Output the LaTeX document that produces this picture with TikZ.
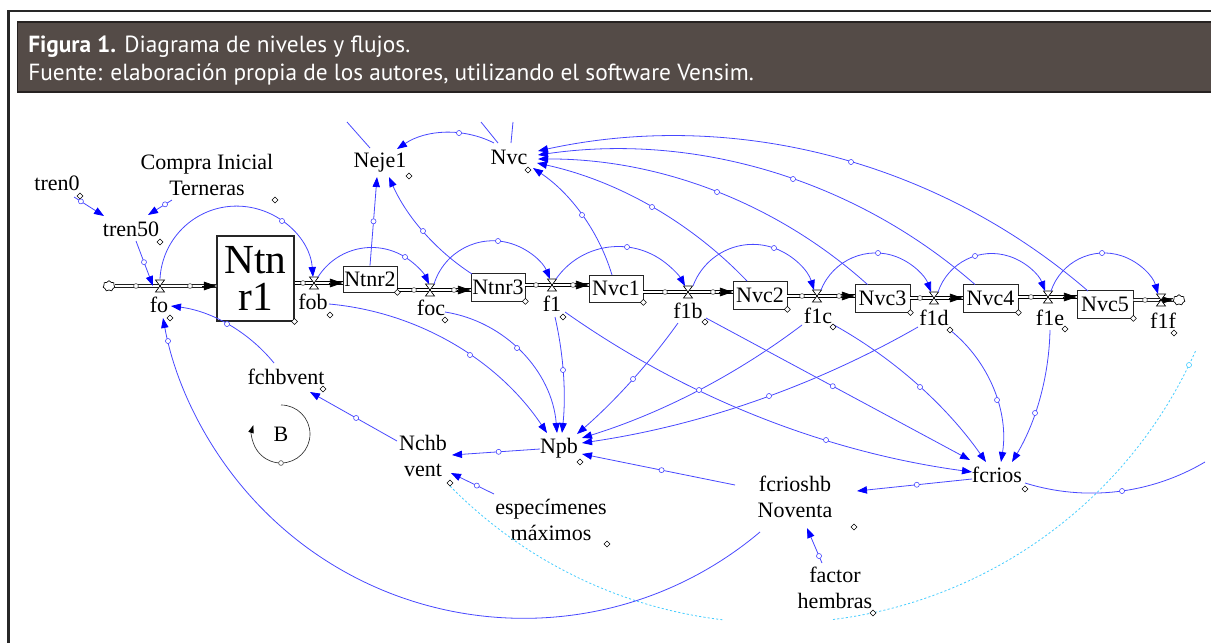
\documentclass[tikz,border=0pt]{standalone}
\usepackage{fontspec}
\setmainfont{Liberation Serif}
\newfontfamily\hdrfont{PT Sans}
\usetikzlibrary{arrows.meta,shapes.geometric,shapes.symbols}
\definecolor{hdrbg}{RGB}{84,75,71}
\definecolor{hdrln}{RGB}{38,34,33}
\definecolor{frm}{RGB}{40,40,40}
\definecolor{lnblue}{RGB}{72,72,255}
\definecolor{tipblue}{RGB}{0,0,255}
\definecolor{cyanl}{RGB}{70,205,255}
\newcommand\vfnt{\fontsize{16.5pt}{19pt}\selectfont}
\newcommand\bigfnt{\fontsize{31pt}{27.5pt}\selectfont}
\newcommand\hfnt{\hdrfont\fontsize{17.5pt}{20pt}\selectfont}
\newdimen\vaSx \newdimen\vaSy \newdimen\vaHx \newdimen\vaHy \newdimen\vaEx \newdimen\vaEy
% circular arc through three points (start, handle, end), as Vensim draws connectors
\newcommand\varc[4][]{%
  \path (#2) coordinate (vaS) (#3) coordinate (vaH) (#4) coordinate (vaE);%
  \pgfextractx{\vaSx}{\pgfpointanchor{vaS}{center}}%
  \pgfextracty{\vaSy}{\pgfpointanchor{vaS}{center}}%
  \pgfextractx{\vaHx}{\pgfpointanchor{vaH}{center}}%
  \pgfextracty{\vaHy}{\pgfpointanchor{vaH}{center}}%
  \pgfextractx{\vaEx}{\pgfpointanchor{vaE}{center}}%
  \pgfextracty{\vaEy}{\pgfpointanchor{vaE}{center}}%
  \pgfmathsetmacro\vaBx{(\vaHx-\vaSx)/100}%
  \pgfmathsetmacro\vaBy{(\vaHy-\vaSy)/100}%
  \pgfmathsetmacro\vaCx{(\vaEx-\vaSx)/100}%
  \pgfmathsetmacro\vaCy{(\vaEy-\vaSy)/100}%
  \pgfmathsetmacro\vaD{2*((\vaBx)*(\vaCy)-(\vaBy)*(\vaCx))}%
  \pgfmathsetmacro\vaBB{(\vaBx)*(\vaBx)+(\vaBy)*(\vaBy)}%
  \pgfmathsetmacro\vaCC{(\vaCx)*(\vaCx)+(\vaCy)*(\vaCy)}%
  \pgfmathsetmacro\vaUx{((\vaCy)*(\vaBB)-(\vaBy)*(\vaCC))/(\vaD)}%
  \pgfmathsetmacro\vaUy{((\vaBx)*(\vaCC)-(\vaCx)*(\vaBB))/(\vaD)}%
  \pgfmathsetmacro\vaR{100*veclen(\vaUx,\vaUy)}%
  \pgfmathsetmacro\vaAs{atan2(-(\vaUy),-(\vaUx))}%
  \pgfmathsetmacro\vaAh{atan2((\vaBy)-(\vaUy),(\vaBx)-(\vaUx))}%
  \pgfmathsetmacro\vaAe{atan2((\vaCy)-(\vaUy),(\vaCx)-(\vaUx))}%
  \pgfmathsetmacro\vaDh{(\vaAh)-(\vaAs)}%
  \pgfmathsetmacro\vaDh{(\vaDh)<0 ? (\vaDh)+360 : (\vaDh)}%
  \pgfmathsetmacro\vaDe{(\vaAe)-(\vaAs)}%
  \pgfmathsetmacro\vaDe{(\vaDe)<0 ? (\vaDe)+360 : (\vaDe)}%
  \pgfmathsetmacro\vaEnd{(\vaDh)<(\vaDe) ? (\vaAs)+(\vaDe) : (\vaAs)+(\vaDe)-360}%
  \draw[#1] (vaS) arc[start angle=\vaAs, end angle=\vaEnd, radius=\vaR pt];%
}
\newcommand\mkvalve[3]{%
  \coordinate (#1) at (#2,#3);%
  \draw[valvest] ([shift={(-4.5,-6)}]#1) -- ([shift={(4.5,-6)}]#1) -- ([shift={(-4.5,6)}]#1) -- ([shift={(4.5,6)}]#1) -- cycle;%
}
\newcommand\mkpipe[2]{%
  \path (#1) coordinate (pS) (#2) coordinate (pE);%
  \draw[pipe] (pS) -- (pE);%
  \draw[pipetip] ([shift={(-14,0)}]pE) -- (pE);%
}
\begin{document}
\begin{tikzpicture}[x=0.75pt,y=-0.75pt,
  lbl/.style={font=\vfnt, inner sep=0pt, align=center},
  stock/.style={draw=black!85, line width=0.6pt, fill=white, inner sep=0pt, font=\vfnt, align=center},
  hdr/.style={font=\hfnt, text=white, inner sep=0pt, anchor=base west},
  conn/.style={draw=lnblue, line width=0.6pt, -{Triangle[length=7.5pt,width=5.5pt,color=tipblue]}},
  connn/.style={draw=lnblue, line width=0.6pt},
  cyanst/.style={draw=cyanl, line width=0.6pt, dash pattern=on 1.6pt off 1.6pt},
  hdl/.style={circle, draw=lnblue, fill=white, inner sep=0pt, minimum size=3.8pt, line width=0.45pt},
  hdlc/.style={circle, draw=cyanl, fill=white, inner sep=0pt, minimum size=3.8pt, line width=0.45pt},
  hdlk/.style={circle, draw=black!70, fill=white, inner sep=0pt, minimum size=3.6pt, line width=0.45pt},
  dmd/.style={diamond, draw=black, fill=white, inner sep=0pt, minimum size=4.6pt, line width=0.4pt},
  valvest/.style={draw=black, fill=white, line width=0.5pt},
  pipe/.style={draw=black, line width=0.55pt, double=white, double distance=1.7pt},
  pipetip/.style={draw=black, line width=0.5pt, -{Triangle[length=9.5pt,width=6.5pt]}},
  cloudst/.style={cloud, draw=black, fill=white, cloud puffs=7, aspect=1.2, inner sep=0pt, minimum width=9pt, minimum height=8pt, line width=0.5pt},
  loopst/.style={draw=black!80, line width=0.5pt, -{Triangle[length=6pt,width=4pt,color=black]}}]
\useasboundingbox (0,0) rectangle (1211,643);
% frame and caption
\draw[frm, line width=1.9pt] (8.5,650) -- (8.5,11) -- (1220,11);
\draw[fill=hdrbg, draw=hdrln, line width=1.3pt] (17.5,22) rectangle (1220,92);
\node[hdr] (cap1) at (28,52) {\textbf{Figura 1.} Diagrama de niveles y flujos.};
\node[hdr] (cap2) at (28,80) {Fuente: elaboración propia de los autores, utilizando el software Vensim.};
% auxiliary variables
\node[lbl] (tren0) at (57,183) {tren0};
\node[lbl] (compra) at (207,175) {Compra Inicial\\Terneras};
\node[lbl] (tren50) at (131,229) {tren50};
\node[lbl] (Neje1) at (380,163) {Neje1};
\node[lbl] (Nvc) at (509,157) {Nvc};
\node[lbl] (fchbvent) at (286,377) {fchbvent};
\node[lbl] (B) at (281,434) {B};
\node[lbl] (Nchbvent) at (423,456) {Nchb\\vent};
\node[lbl] (Npb) at (559,448) {Npb};
\node[lbl] (espec) at (551,520) {especímenes\\máximos};
\node[lbl] (fcrios) at (997,475) {fcrios};
\node[lbl] (fcrioshb) at (795,497) {fcrioshb\\Noventa};
\node[lbl] (factor) at (835,588) {factor\\hembras};
% flow labels
\node[lbl] (lfo) at (159,305) {fo};
\node[lbl] (lfob) at (313,302) {fob};
\node[lbl] (lfoc) at (431,308) {foc};
\node[lbl] (lf1) at (552,304) {f1};
\node[lbl] (lf1b) at (688,311) {f1b};
\node[lbl] (lf1c) at (818,316) {f1c};
\node[lbl] (lf1d) at (934,318) {f1d};
\node[lbl] (lf1e) at (1050,318) {f1e};
\node[lbl] (lf1f) at (1163,321) {f1f};
% stocks
\node[stock, font=\bigfnt, minimum width=57.75pt, minimum height=63.75pt, line width=0.8pt] (Ntnr1) at (255.5,278.5) {Ntn\\r1};
\node[stock, minimum width=40.5pt, minimum height=19.5pt] (Ntnr2) at (370,279) {Ntnr2};
\node[stock, minimum width=40.5pt, minimum height=21pt] (Ntnr3) at (498,287) {Ntnr3};
\node[stock, minimum width=40.5pt, minimum height=20.25pt] (Nvc1) at (616,288.5) {Nvc1};
\node[stock, minimum width=40.5pt, minimum height=21pt] (Nvc2) at (760,295) {Nvc2};
\node[stock, minimum width=41.25pt, minimum height=20.5pt] (Nvc3) at (882.5,298.5) {Nvc3};
\node[stock, minimum width=41.25pt, minimum height=20.5pt] (Nvc4) at (990.5,298.5) {Nvc4};
\node[stock, minimum width=42pt, minimum height=21pt] (Nvc5) at (1105,304) {Nvc5};
% clouds
\node[cloudst] (cL) at (109,286) {};
\node[cloudst] (cR) at (1179,300) {};
% valves
\coordinate (vfo) at (160,286);
\coordinate (vfob) at (314,283);
\coordinate (vfoc) at (430,290);
\coordinate (vf1) at (552,285);
\coordinate (vf1b) at (688,292);
\coordinate (vf1c) at (817,296);
\coordinate (vf1d) at (934,298);
\coordinate (vf1e) at (1048,297);
\coordinate (vf1f) at (1161,300);
% pipes
\mkpipe{cL.east}{Ntnr1.west |- vfo}
\mkpipe{Ntnr1.east |- vfob}{Ntnr2.west |- vfob}
\mkpipe{Ntnr2.east |- vfoc}{Ntnr3.west |- vfoc}
\mkpipe{Ntnr3.east |- vf1}{Nvc1.west |- vf1}
\mkpipe{Nvc1.east |- vf1b}{Nvc2.west |- vf1b}
\mkpipe{Nvc2.east |- vf1c}{Nvc3.west |- vf1c}
\mkpipe{Nvc3.east |- vf1d}{Nvc4.west |- vf1d}
\mkpipe{Nvc4.east |- vf1e}{Nvc5.west |- vf1e}
\mkpipe{Nvc5.east |- vf1f}{cR.west}
\foreach \px/\py [count=\i] in {136/286,190/286,303/283,414/290,454/290,536/285,573/285,665/292,713/292,802/296,839/296,920/298,1031/297,1145/300}
  \node[hdlk] (ph\i) at (\px,\py) {};
\mkvalve{vfoA}{160}{286}
\mkvalve{vfobA}{314}{283}
\mkvalve{vfocA}{430}{290}
\mkvalve{vf1A}{552}{285}
\mkvalve{vf1bA}{688}{292}
\mkvalve{vf1cA}{817}{296}
\mkvalve{vf1dA}{934}{298}
\mkvalve{vf1eA}{1048}{297}
\mkvalve{vf1fA}{1161}{300}
% handle coordinates
\coordinate (h1) at (282,221);
\coordinate (h2) at (405,257);
\coordinate (h3) at (498,241);
\coordinate (h4) at (627,247);
\coordinate (h5) at (774,248);
\coordinate (h6) at (878,253);
\coordinate (h7) at (975,256);
\coordinate (h8) at (1102,253);
\coordinate (h9) at (423,231);
\coordinate (h10) at (459,133);
\coordinate (h11) at (582,215);
\coordinate (h12) at (652,207);
\coordinate (h13) at (717,192);
\coordinate (h14) at (793,179);
\coordinate (h15) at (851,162);
\coordinate (h16) at (470,355);
\coordinate (h17) at (517,348);
\coordinate (h18) at (563,370);
\coordinate (h19) at (633,379);
\coordinate (h20) at (699,390);
\coordinate (h21) at (769,396);
\coordinate (h23) at (826,440);
\coordinate (h25) at (920,387);
\coordinate (h26) at (997,400);
\coordinate (h27) at (1035,413);
\coordinate (h29) at (1122,491);
\coordinate (h30) at (227,324);
\coordinate (h31) at (168,341);
\coordinate (offR) at (1205,462);
\coordinate (fr1) at (347,122);
\coordinate (fr2) at (481,122);
\coordinate (fr3) at (513,122);
\coordinate (cy1) at (600,587.5);
\coordinate (cyA) at (723,619.8);
\coordinate (cyB) at (833,619.5);
\coordinate (cy2) at (1031,546);
\coordinate (cyC) at (1196,350);
% cyan dashed arc
\varc[cyanst]{[shift={(27,30)}]Nchbvent.center}{cy1}{cyA}
\varc[cyanst]{cyB}{cy2}{cyC}
\node[hdlc] (hc1) at (1189,365) {};
% arcs between flows
\varc[conn]{[shift={(0,-7)}]vfo}{h1}{[shift={(-1,-6)}]vfob}
\varc[conn]{[shift={(4,-6)}]vfob}{h2}{[shift={(-1,-6)}]vfoc}
\varc[conn]{[shift={(4,-6)}]vfoc}{h3}{[shift={(-2,-6)}]vf1}
\varc[conn]{[shift={(4,-6)}]vf1}{h4}{[shift={(-3,-6)}]vf1b}
\varc[conn]{[shift={(5,-6)}]vf1b}{h5}{[shift={(-3,-6)}]vf1c}
\varc[conn]{[shift={(4,-6)}]vf1c}{h6}{[shift={(-3,-6)}]vf1d}
\varc[conn]{[shift={(4,-6)}]vf1d}{h7}{[shift={(-3,-6)}]vf1e}
\varc[conn]{[shift={(3,-6)}]vf1e}{h8}{[shift={(-3,-6)}]vf1f}
% to Neje1 and Nvc
\draw[conn] (Ntnr2.north) -- node[hdl,pos=0.5]{} ([shift={(-3,14)}]Neje1.center);
\varc[conn]{[shift={(-26,-13)}]Ntnr3.center}{h9}{[shift={(9,14)}]Neje1.center}
\varc[conn]{[shift={(-15,-14)}]Nvc.center}{h10}{[shift={(17,-14)}]Neje1.center}
\varc[conn]{[shift={(-4,-13.5)}]Nvc1.center}{h11}{[shift={(24,11)}]Nvc.center}
\varc[conn]{[shift={(-13,-14)}]Nvc2.center}{h12}{[shift={(28,6)}]Nvc.center}
\varc[conn]{[shift={(-15,-14)}]Nvc3.center}{h13}{[shift={(29,2)}]Nvc.center}
\varc[conn]{[shift={(-15.5,-14)}]Nvc4.center}{h14}{[shift={(29,-2)}]Nvc.center}
\varc[conn]{[shift={(-17,-13)}]Nvc5.center}{h15}{[shift={(29,-6)}]Nvc.center}
\draw[connn] (fr1) -- ([shift={(-10,-15)}]Neje1.center);
\draw[connn] (fr2) -- ([shift={(-11,-14)}]Nvc.center);
\draw[connn] (fr3) -- ([shift={(2,-14)}]Nvc.center);
% to Npb
\varc[conn]{[shift={(16,2)}]lfob.center}{h16}{[shift={(-12,-15)}]Npb.center}
\varc[conn]{[shift={(14,4)}]lfoc.center}{h17}{[shift={(-2,-15)}]Npb.center}
\varc[conn]{[shift={(3,13)}]lf1.center}{h18}{[shift={(3,-15)}]Npb.center}
\varc[conn]{[shift={(-10,12)}]lf1b.center}{h19}{[shift={(18,-14)}]Npb.center}
\varc[conn]{[shift={(-16,9)}]lf1c.center}{h20}{[shift={(23,-10)}]Npb.center}
\varc[conn]{[shift={(-16,9)}]lf1d.center}{h21}{[shift={(23,-5)}]Npb.center}
\draw[conn] ([shift={(-60,-12)}]fcrioshb.center) -- node[hdl,pos=0.48]{} ([shift={(23,6)}]Npb.center);
% to fcrios
\varc[conn]{[shift={(13,8)}]lf1.center}{h23}{[shift={(-25,-3)}]fcrios.center}
\draw[conn] ([shift={(18,7)}]lf1b.center) -- node[hdl,pos=0.48]{} ([shift={(-27,-15)}]fcrios.center);
\varc[conn]{[shift={(16,9)}]lf1c.center}{h25}{[shift={(-11,-13)}]fcrios.center}
\varc[conn]{[shift={(16,12)}]lf1d.center}{h26}{[shift={(4,-13)}]fcrios.center}
\varc[conn]{[shift={(0,12)}]lf1e.center}{h27}{[shift={(15,-13)}]fcrios.center}
\draw[conn] ([shift={(-25,4)}]fcrios.center) -- node[hdl,pos=0.48]{} ([shift={(62,-6)}]fcrioshb.center);
\varc[connn]{[shift={(28,8)}]fcrios.center}{h29}{offR}
\draw[conn] ([shift={(-13,-25)}]factor.center) -- node[hdl,pos=0.2]{} ([shift={(12,31)}]fcrioshb.center);
% lower left loop
\draw[conn] ([shift={(-26,-15)}]Nchbvent.center) -- node[hdl,pos=0.47]{} ([shift={(24,15)}]fchbvent.center);
\draw[conn] ([shift={(-19,1)}]Npb.center) -- node[hdl,pos=0.47]{} ([shift={(29,-1)}]Nchbvent.center);
\draw[conn] ([shift={(-57,-26)}]espec.center) -- node[hdl,pos=0.4]{} ([shift={(28,17)}]Nchbvent.center);
\varc[conn]{[shift={(-12,-14)}]fchbvent.center}{h30}{[shift={(12,1)}]lfo.center}
\varc[conn]{[shift={(-35,35)}]fcrioshb.center}{h31}{[shift={(4,13)}]lfo.center}
% top left
\draw[conn] ([shift={(17,14)}]tren0.center) -- node[hdl,pos=0.23]{} ([shift={(-27,-13)}]tren50.center);
\draw[conn] ([shift={(-35,25)}]compra.center) -- node[hdl,pos=0.29]{} ([shift={(17,-14)}]tren50.center);
\draw[conn] ([shift={(5,12)}]tren50.center) -- node[hdl,pos=0.47]{} ([shift={(-7,0)}]vfo);
% loop marker B
\draw[loopst] ([shift={(0,-29)}]B.center) arc[start angle=-90, end angle=198, radius=29];
\node[hdlk] (hB) at ([shift={(0,29)}]B.center) {};
% handles of arcs
\foreach \h in {h1,h2,h3,h4,h5,h6,h7,h8,h9,h10,h11,h12,h13,h14,h15,h16,h17,h18,h19,h20,h21,h23,h25,h26,h27,h29,h30,h31}
  \node[hdl] (c\h) at (\h) {};
% small diamonds
\foreach \dx/\dy [count=\i] in {80/196,275/200,160/242,170/318,330/315,409/176,445/320,528/170,563/317,705/322,833/327,950/330,1065/329,1174/333,323/389,580/462,450/483,607/544,1025/489,854/527,873/613}
  \node[dmd] (d\i) at (\dx,\dy) {};
\foreach \s in {Ntnr1,Ntnr2,Ntnr3,Nvc1,Nvc2,Nvc3,Nvc4,Nvc5}
  \node[dmd] (dd\s) at (\s.south east) {};
\end{tikzpicture}
\end{document}
